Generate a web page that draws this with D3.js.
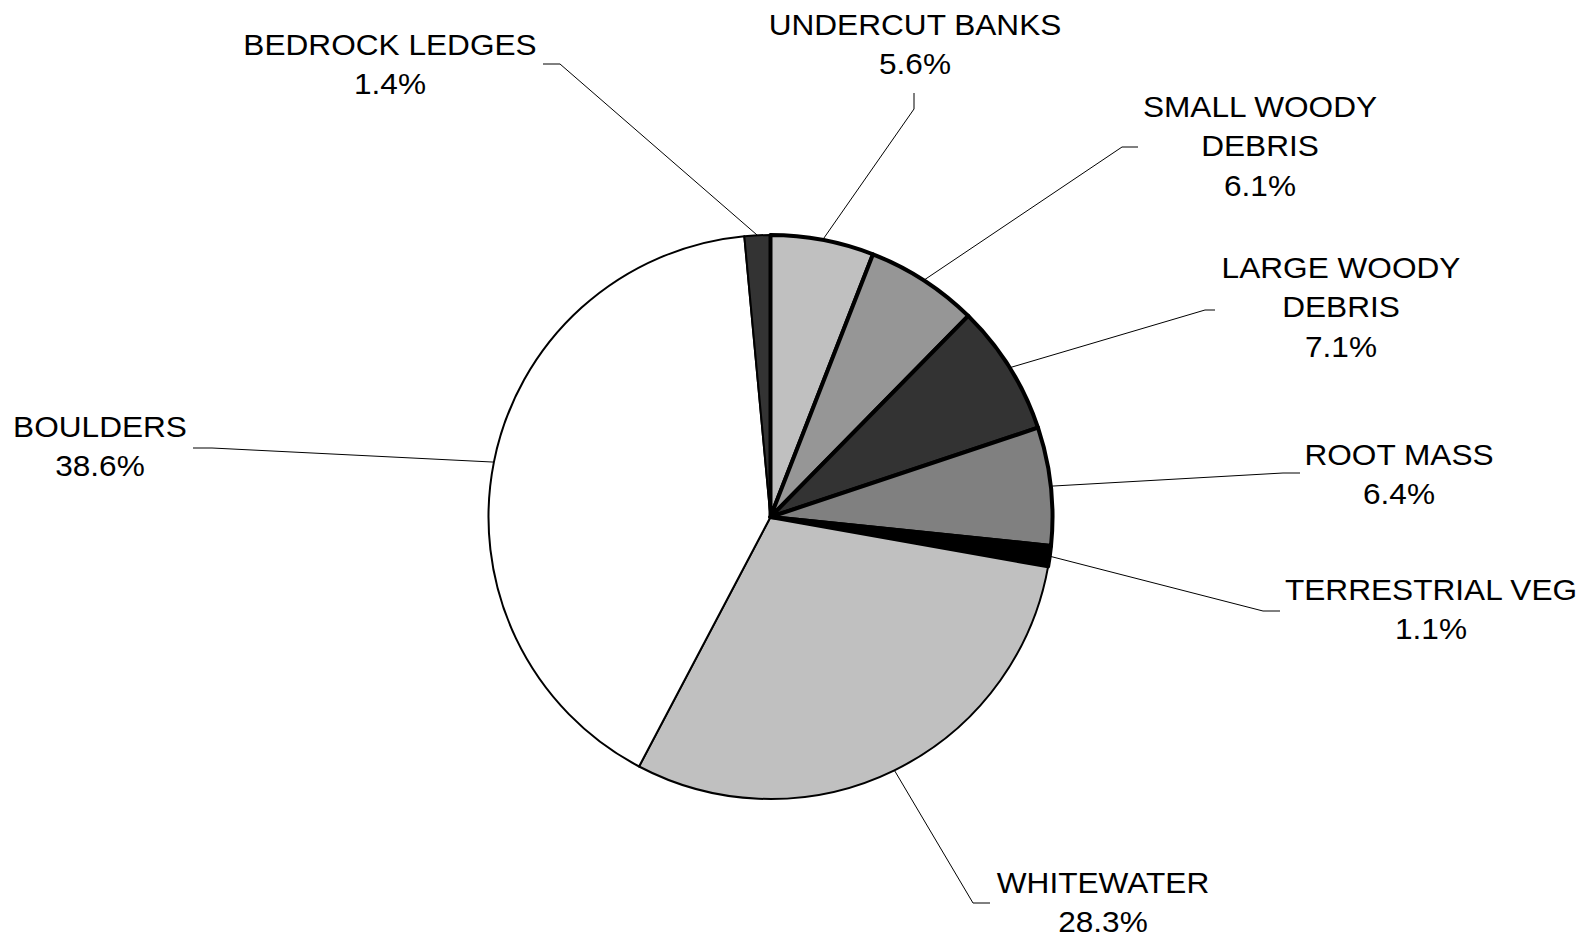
<!DOCTYPE html>
<html>
<head>
<meta charset="utf-8">
<script src="https://cdn.jsdelivr.net/npm/d3@7"></script>
<style>
  html, body { margin: 0; padding: 0; background: #fff; }
  svg { display: block; }
  text { font-family: "Liberation Sans", Arial, sans-serif; fill: #000; }
</style>
</head>
<body>
<svg id="chart" width="1593" height="938"></svg>
<script>
// Habitat cover types, clockwise from 12 o'clock
const categories = ["UNDERCUT BANKS", "SMALL WOODY DEBRIS", "LARGE WOODY DEBRIS", "ROOT MASS",
                    "TERRESTRIAL VEG", "WHITEWATER", "BOULDERS", "BEDROCK LEDGES"];
const shares = [5.6, 6.1, 7.1, 6.4, 1.1, 28.3, 38.6, 1.4];
const labelLines = [["UNDERCUT BANKS"], ["SMALL WOODY", "DEBRIS"], ["LARGE WOODY", "DEBRIS"], ["ROOT MASS"],
                    ["TERRESTRIAL VEG"], ["WHITEWATER"], ["BOULDERS"], ["BEDROCK LEDGES"]];

// Styling per slice
const fills = ["#c0c0c0", "#969696", "#333333", "#808080", "#000000", "#c0c0c0", "#ffffff", "#333333"];
const edgeWidths = [4, 4, 4, 4, 4, 2, 2, 2];

// Label placement: text centre, first baseline, leader points on the label side
const labelLayout = [
  { x: 915,  y: 35,  leader: [[914, 93], [914, 109]] },
  { x: 1260, y: 117, leader: [[1138, 147], [1122, 147]] },
  { x: 1341, y: 278, leader: [[1215, 310], [1205, 310]] },
  { x: 1399, y: 465, leader: [[1300, 473], [1283, 473]] },
  { x: 1431, y: 600, leader: [[1280, 611], [1263, 611]] },
  { x: 1103, y: 893, leader: [[990, 903], [973, 903]] },
  { x: 100,  y: 437, leader: [[193, 448], [212, 448]] },
  { x: 390,  y: 55,  leader: [[543, 64], [560, 64]] }
];

const cx = 770.5, cy = 517, r = 282;
const fontSize = 29, lineGap = 39.5, stretch = 1.09;

const svg = d3.select("#chart");
const g = svg.append("g").attr("transform", `translate(${cx},${cy})`);

const pie = d3.pie().sort(null).value(d => d)(shares);
const arc = d3.arc().innerRadius(0).outerRadius(r);
const rim = d3.arc().innerRadius(r).outerRadius(r);

// thin-edged slices first, heavy-edged ones on top
const order = d3.range(pie.length).sort((a, b) => edgeWidths[a] - edgeWidths[b]);
g.selectAll("path.slice")
  .data(order)
  .join("path")
  .attr("class", "slice")
  .attr("d", i => arc(pie[i]))
  .attr("fill", i => fills[i])
  .attr("stroke", "#000")
  .attr("stroke-width", i => edgeWidths[i])
  .attr("stroke-linejoin", "round");

// leader lines
const line = d3.line();
svg.selectAll("path.leader")
  .data(pie)
  .join("path")
  .attr("class", "leader")
  .attr("fill", "none")
  .attr("stroke", "#000")
  .attr("stroke-width", 1)
  .attr("d", (d, i) => {
    const [px, py] = rim.centroid(d);
    const pts = labelLayout[i].leader.slice();
    pts.push([cx + px, cy + py]);
    return line(pts);
  });

// labels: category name(s) plus percentage
const labels = svg.selectAll("g.label")
  .data(categories)
  .join("g")
  .attr("class", "label")
  .attr("transform", (d, i) => `translate(${labelLayout[i].x},${labelLayout[i].y}) scale(${stretch},1)`);

labels.append("text")
  .attr("text-anchor", "middle")
  .attr("font-size", fontSize)
  .each(function (d, i) {
    const t = d3.select(this);
    const rows = labelLines[i].concat([shares[i].toFixed(1) + "%"]);
    rows.forEach((row, k) => {
      t.append("tspan").attr("x", 0).attr("y", k * lineGap).text(row);
    });
  });
</script>
</body>
</html>
